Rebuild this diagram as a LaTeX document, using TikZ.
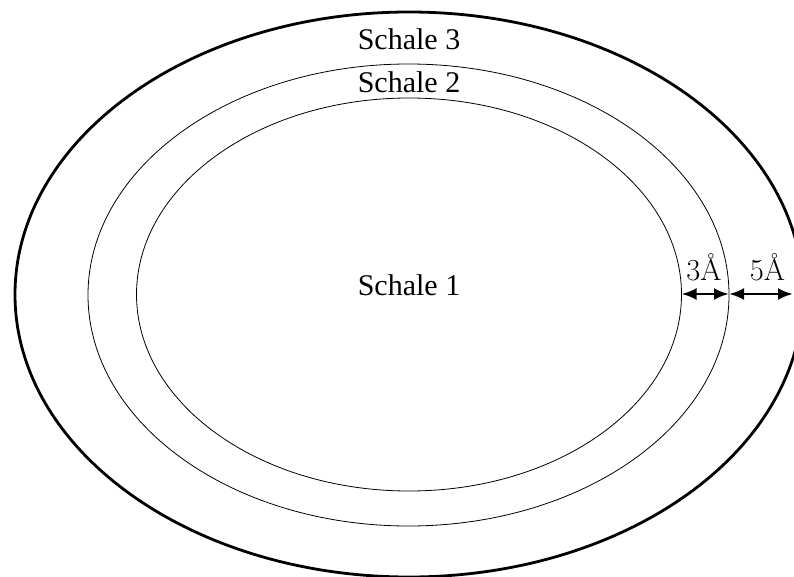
\documentclass[tikz,border=0pt]{standalone}
\usepackage{fontspec}
\newfontfamily\tnr{Liberation Serif}
\usetikzlibrary{arrows.meta}
\tikzset{
  shell/.style={draw=black, line width=0.8pt},
  outershell/.style={draw=black, line width=2.8pt},
  lbl/.style={font=\tnr\fontsize{30}{36}\selectfont, anchor=base, inner sep=0pt},
  dimlbl/.style={font=\fontsize{30.5}{36}\selectfont, anchor=base, inner sep=0pt},
  dimarrow/.style={line width=2.8pt, {Latex[length=15pt,width=12pt]}-{Latex[length=15pt,width=12pt]}}
}
\begin{document}
\begin{tikzpicture}[x=1pt,y=-1pt]
\useasboundingbox (0,0) rectangle (794,577);
\clip (0,0) rectangle (794,577);
\draw[shell] (409,294.5) ellipse [x radius=272.5pt, y radius=196.5pt];
\draw[shell] (408.5,295) ellipse [x radius=320.5pt, y radius=231pt];
\draw[outershell] (409,294.5) ellipse [x radius=394pt, y radius=282.5pt];
\node[lbl] (s3) at (409,50) {Schale 3};
\node[lbl] (s2) at (409,93) {Schale 2};
\node[lbl] (s1) at (409,295) {Schale 1};
\coordinate (r1) at (681.5,294);
\coordinate (r2) at (729,294);
\coordinate (r3) at (793,294);
\draw[dimarrow] (r1) -- (r2);
\draw[dimarrow] (r2) -- (r3);
\node[dimlbl] (d3) at (704,280) {3\AA};
\node[dimlbl] (d5) at (767.5,280) {5\AA};
\end{tikzpicture}
\end{document}
